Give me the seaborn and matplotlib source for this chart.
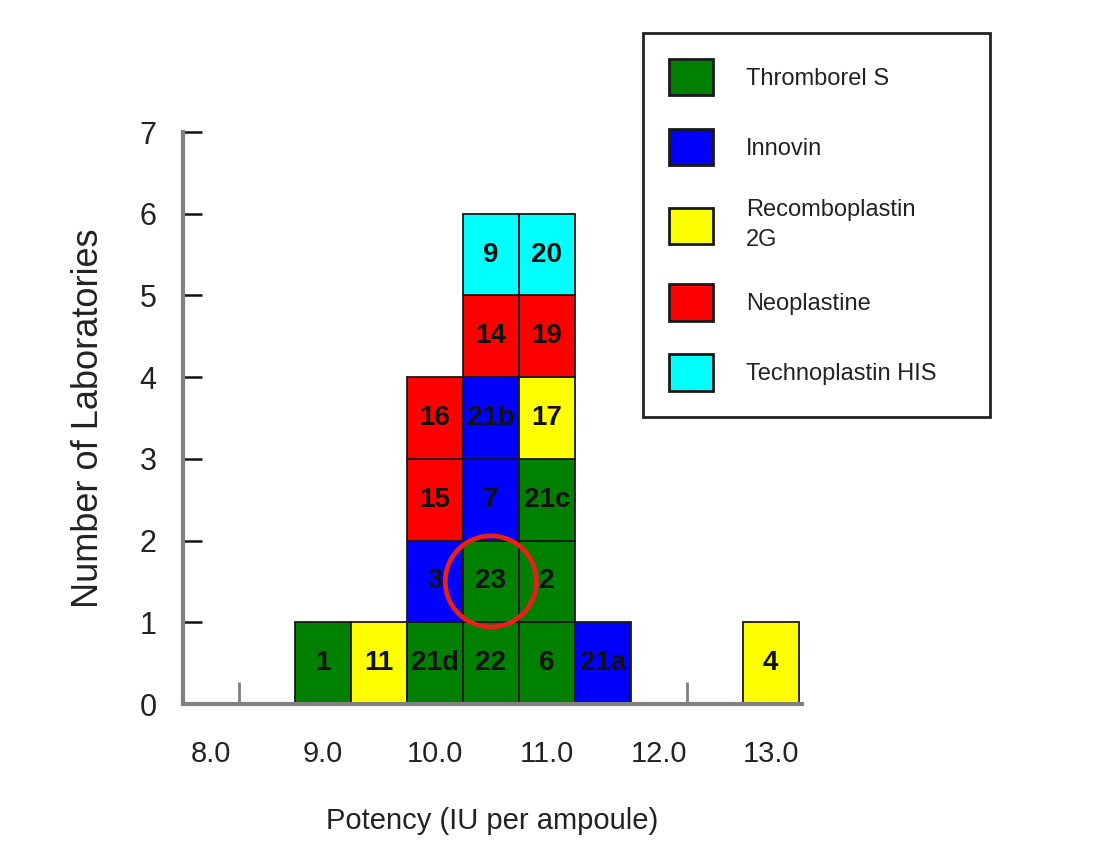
import numpy as np
import pandas as pd
import matplotlib
matplotlib.use("Agg")
import matplotlib.pyplot as plt
from matplotlib.patches import Patch
from matplotlib import font_manager
import seaborn as sns

# ---------------- data ----------------
products = ["Thromborel S", "Innovin", "Recomboplastin\n2G", "Neoplastine", "Technoplastin HIS"]
product_colors = ["#008000", "#0000ff", "#ffff00", "#ff0000", "#00ffff"]

lab_ids = ["1", "11",
           "21d", "3", "15", "16",
           "22", "23", "7", "21b", "14", "9",
           "6", "2", "21c", "17", "19", "20",
           "21a", "4"]
potency = [9.0, 9.5,
           10.0, 10.0, 10.0, 10.0,
           10.5, 10.5, 10.5, 10.5, 10.5, 10.5,
           11.0, 11.0, 11.0, 11.0, 11.0, 11.0,
           11.5, 13.0]
reagent = ["Thromborel S", "Recomboplastin\n2G",
           "Thromborel S", "Innovin", "Neoplastine", "Neoplastine",
           "Thromborel S", "Thromborel S", "Innovin", "Innovin", "Neoplastine", "Technoplastin HIS",
           "Thromborel S", "Thromborel S", "Thromborel S", "Recomboplastin\n2G", "Neoplastine", "Technoplastin HIS",
           "Innovin", "Recomboplastin\n2G"]
highlight_lab = "23"

x_ticks = [8.0, 9.0, 10.0, 11.0, 12.0, 13.0]
x_tick_labels = ["8.0", "9.0", "10.0", "11.0", "12.0", "13.0"]
y_ticks = [0, 1, 2, 3, 4, 5, 6, 7]

df = pd.DataFrame({"lab": lab_ids, "potency": potency, "reagent": reagent})
df["level"] = df.groupby("potency").cumcount()
palette = dict(zip(products, product_colors))

# ---------------- style ----------------
sns.set_style("white")
avail = {f.name for f in font_manager.fontManager.ttflist}
base_font = "Liberation Sans" if "Liberation Sans" in avail else "DejaVu Sans"
narrow_font = "Liberation Sans Narrow" if "Liberation Sans Narrow" in avail else base_font
plt.rcParams["font.family"] = [base_font, "DejaVu Sans"]

fig = plt.figure(figsize=(11.01, 8.59), dpi=100)
ax = fig.add_axes([183 / 1101, 1 - 704 / 859, 619 / 1101, 572 / 859])

bin_w = 0.5
for _, r in df.iterrows():
    ax.bar(r["potency"], 1, bottom=r["level"], width=bin_w,
           color=palette[r["reagent"]], edgecolor="#1a1a1a", linewidth=1.3,
           align="center", zorder=2)
    ax.text(r["potency"], r["level"] + 0.5, r["lab"], ha="center", va="center",
            fontsize=20, fontweight="bold", color="#111111",
            family=[narrow_font, "DejaVu Sans"], zorder=3)

hl = df[df["lab"] == highlight_lab].iloc[0]
ax.scatter([hl["potency"]], [hl["level"] + 0.5], s=4300, marker="o",
           facecolors="none", edgecolors="#e8201c", linewidths=3.4, zorder=4)

ax.set_xlim(7.75, 13.28)
ax.set_ylim(0, 7)
ax.set_xticks(x_ticks)
ax.set_xticklabels(x_tick_labels)
ax.set_xticks([8.25, 12.25], minor=True)
ax.set_yticks(y_ticks)

for s in ["top", "right"]:
    ax.spines[s].set_visible(False)
for s in ["left", "bottom"]:
    ax.spines[s].set_color("#808080")
    ax.spines[s].set_linewidth(3)

ax.tick_params(axis="x", which="major", bottom=True, length=0, pad=26, labelsize=21, labelcolor="#222222")
ax.tick_params(axis="x", which="minor", bottom=True, direction="in", length=16, width=2, color="#808080")
ax.tick_params(axis="y", which="major", left=True, direction="in", length=14, width=1.8,
               color="#111111", pad=19, labelsize=22, labelcolor="#222222")

ax.set_xlabel("Potency (IU per ampoule)", fontsize=21, color="#222222")
ax.set_ylabel("Number of Laboratories", fontsize=26, color="#222222")
ax.xaxis.set_label_coords(0.5, -0.18)
ax.yaxis.set_label_coords(-0.125, 0.5)

handles = [Patch(facecolor=c, edgecolor="#1a1a1a", linewidth=2) for c in product_colors]
leg = fig.legend(handles, products, loc="upper left",
                 bbox_to_anchor=(643 / 1101, 1 - 33 / 859, 347 / 1101, 0),
                 bbox_transform=fig.transFigure, mode="expand",
                 fontsize=17, frameon=True, fancybox=False, framealpha=1,
                 edgecolor="#222222", borderpad=1.1, labelspacing=1.42,
                 handlelength=1.85, handleheight=2.0, handletextpad=1.4,
                 borderaxespad=0)
leg.get_frame().set_linewidth(2)
for t in leg.get_texts():
    t.set_color("#222222")
    t.set_linespacing(1.45)

fig.savefig("out.png", dpi=100)
